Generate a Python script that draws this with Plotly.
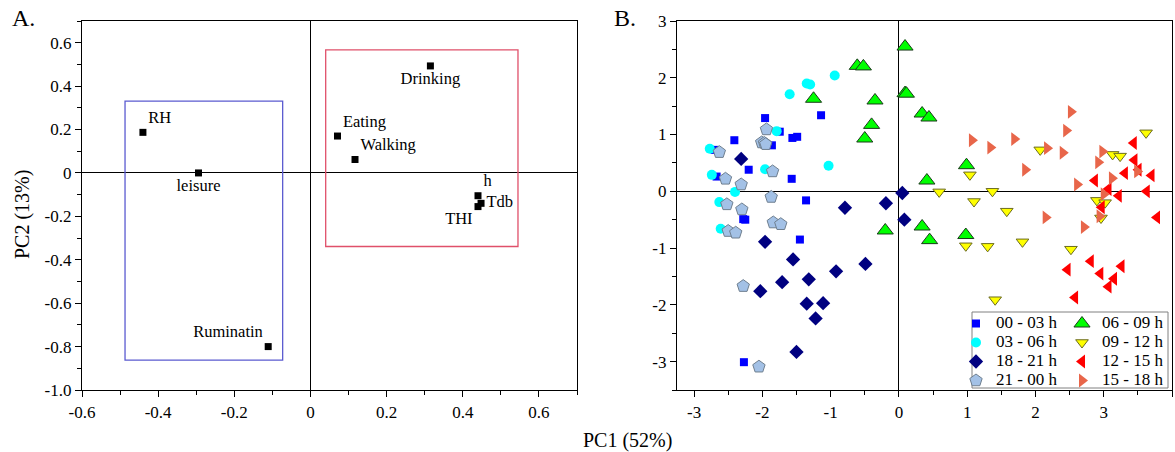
import plotly.graph_objects as go

FONT = "Liberation Serif, Times New Roman, serif"

# ---------------- Panel A data (loadings) ----------------
var_names = ["RH", "leisure", "Ruminatin", "Drinking", "Eating", "Walking", "h", "Tdb", "THI"]
load_pc1 = [-0.44, -0.294, -0.111, 0.315, 0.071, 0.117, 0.440, 0.448, 0.440]
load_pc2 = [0.187, 0.0, -0.80, 0.493, 0.170, 0.062, -0.105, -0.140, -0.155]
label_pos = ["top right", "bottom center", "top left", "bottom center", "top right",
             "top right", "top right", "middle right", "bottom left"]

# groups boxes (PC1 min, PC1 max, PC2 min, PC2 max)
box_left = [-0.487, -0.073, -0.862, 0.331]
box_right = [0.040, 0.545, -0.339, 0.567]

a_xticks = [-0.6, -0.4, -0.2, 0, 0.2, 0.4, 0.6]
a_xlabels = ["-0.6", "-0.4", "-0.2", "0", "0.2", "0.4", "0.6"]
a_yticks = [-1.0, -0.8, -0.6, -0.4, -0.2, 0, 0.2, 0.4, 0.6]
a_ylabels = ["-1.0", "-0.8", "-0.6", "-0.4", "-0.2", "0", "0.2", "0.4", "0.6"]

# ---------------- Panel B data (scores) ----------------
g0003_x = [-1.96, -1.745, -2.41, -1.86, -1.56, -1.49, -1.14, -2.20, -1.57, -2.67, -2.70, -1.36, -2.28, -2.25, -1.45, -2.27]
g0003_y = [1.29, 1.05, 0.90, 0.81, 0.94, 0.96, 1.34, 0.38, 0.22, 0.26, 0.73, -0.16, -0.49, -0.50, -0.85, -3.01]

g0306_x = [-0.94, -1.35, -1.30, -1.60, -1.79, -2.77, -1.96, -1.03, -2.74, -2.40, -2.63, -2.61]
g0306_y = [2.04, 1.90, 1.88, 1.71, 1.06, 0.75, 0.39, 0.45, 0.29, -0.01, -0.19, -0.66]

g1821_x = [-2.31, -0.79, -0.19, 0.05, 0.08, -1.96, -1.55, -0.49, -0.92, -1.32, -1.71, -2.03, -1.35, -1.11, -1.22, -1.50]
g1821_y = [0.57, -0.29, -0.21, -0.03, -0.50, -0.89, -1.20, -1.28, -1.41, -1.55, -1.60, -1.76, -1.98, -1.97, -2.24, -2.83]

g2100_x = [-1.94, -2.01, -1.97, -1.95, -2.63, -1.85, -2.54, -2.31, -1.87, -2.52, -2.30, -1.84, -1.73, -2.50, -2.39, -2.28, -2.05]
g2100_y = [1.09, 0.86, 0.85, 0.83, 0.69, 0.35, 0.22, 0.12, -0.10, -0.23, -0.32, -0.55, -0.58, -0.70, -0.73, -1.67, -3.09]

g0609_x = [-0.61, -0.52, -1.25, -0.35, -0.40, -0.50, 0.09, 0.09, 0.11, 0.34, 0.44, 0.99, 0.41, 0.34, 0.45, 0.98, -0.20]
g0609_y = [2.21, 2.20, 1.63, 1.60, 1.17, 0.93, 2.55, 1.73, 1.72, 1.37, 1.30, 0.46, 0.19, -0.62, -0.86, -0.77, -0.69]

g0912_x = [3.62, 2.07, 3.13, 3.24, 1.04, 0.59, 1.37, 1.10, 1.58, 2.90, 3.02, 2.96, 0.98, 1.30, 1.81, 2.52, 1.41]
g0912_y = [1.03, 0.73, 0.65, 0.62, 0.29, -0.01, 0.0, -0.18, -0.35, -0.16, -0.20, -0.47, -0.96, -0.97, -0.89, -1.02, -1.91]

g1215_x = [3.44, 3.45, 3.31, 3.51, 3.70, 2.87, 3.07, 3.22, 3.63, 2.97, 3.78, 2.47, 2.81, 2.95, 3.26, 3.15, 3.07, 2.58]
g1215_y = [0.85, 0.55, 0.32, 0.38, 0.28, 0.19, 0.04, -0.08, 0.0, -0.28, -0.46, -1.38, -1.23, -1.45, -1.32, -1.54, -1.68, -1.87]

g1518_x = [2.52, 2.45, 1.07, 1.34, 1.69, 2.17, 2.40, 1.85, 2.61, 2.98, 2.92, 3.12, 3.49, 3.00, 2.94, 2.15, 2.71]
g1518_y = [1.40, 1.07, 0.90, 0.77, 0.92, 0.76, 0.68, 0.38, 0.12, 0.70, 0.51, 0.23, 0.35, -0.05, -0.44, -0.46, -0.63]

b_xticks = [-3, -2, -1, 0, 1, 2, 3, 4]
b_xlabels = ["-3", "-2", "-1", "0", "1", "2", "3", "4"]
b_yticks = [-3, -2, -1, 0, 1, 2, 3]
b_ylabels = ["-3", "-2", "-1", "0", "1", "2", "3"]

fig = go.Figure()

# ---------- Panel A ----------
fig.add_trace(go.Scatter(
    x=load_pc1, y=load_pc2, text=var_names, mode="markers+text",
    textposition=label_pos,
    textfont=dict(family=FONT, size=16.5, color="black"),
    marker=dict(symbol="square", size=7, color="black"),
    xaxis="x", yaxis="y", showlegend=False, cliponaxis=False))

# ---------- Panel B ----------
groups = [
    ("00 - 03 h", g0003_x, g0003_y, dict(symbol="square", size=8, color="#0000ff"), "legend", 1),
    ("03 - 06 h", g0306_x, g0306_y, dict(symbol="circle", size=10, color="#00ffff"), "legend", 2),
    ("18 - 21 h", g1821_x, g1821_y, dict(symbol="diamond", size=11, color="#000080"), "legend", 3),
    ("21 - 00 h", g2100_x, g2100_y, dict(symbol="pentagon", size=13, color="#a3c1e6",
                                         line=dict(color="#6f7f8f", width=1)), "legend", 4),
    ("06 - 09 h", g0609_x, g0609_y, dict(symbol="triangle-up", size=14, color="#00ff00",
                                         line=dict(color="#1a3a1a", width=1)), "legend2", 1),
    ("09 - 12 h", g0912_x, g0912_y, dict(symbol="triangle-down", size=11, color="#ffff00",
                                         line=dict(color="#6b6b20", width=1)), "legend2", 2),
    ("12 - 15 h", g1215_x, g1215_y, dict(symbol="triangle-left", size=12, color="#ff0000"), "legend2", 3),
    ("15 - 18 h", g1518_x, g1518_y, dict(symbol="triangle-right", size=12, color="#e8664a"), "legend2", 4),
]
for name, gx, gy, mk, lg, rank in groups:
    fig.add_trace(go.Scatter(x=gx, y=gy, mode="markers",
                             name='<span style="font-size:17px">' + name + '</span>',
                             marker=mk, xaxis="x2", yaxis="y2", legend=lg, legendrank=rank,
                             cliponaxis=False))

# ---------- shapes: group boxes ----------
fig.add_shape(type="rect", xref="x", yref="y", x0=box_left[0], x1=box_left[1],
              y0=box_left[2], y1=box_left[3], line=dict(color="#5b5bd0", width=1.3))
fig.add_shape(type="rect", xref="x", yref="y", x0=box_right[0], x1=box_right[1],
              y0=box_right[2], y1=box_right[3], line=dict(color="#e0506a", width=1.3))
# legend frame
fig.add_shape(type="rect", xref="paper", yref="paper", x0=972/1175, x1=1168/1175,
              y0=1-388/452, y1=1-312/452, line=dict(color="#808080", width=1),
              fillcolor="white", layer="above")

axis_common = dict(showgrid=False, showline=True, linecolor="black", linewidth=1.3,
                   mirror=True, ticks="outside", ticklen=6, tickwidth=1.3, tickcolor="black",
                   zeroline=True, zerolinecolor="black", zerolinewidth=1.3,
                   tickfont=dict(family=FONT, size=17, color="black"))

legend_common = dict(xanchor="left", yanchor="top", orientation="v",
                     bgcolor="rgba(0,0,0,0)", borderwidth=0,
                     font=dict(family=FONT, size=11, color="black"),
                     itemsizing="trace", tracegroupgap=0, itemwidth=30)

fig.update_layout(
    width=1175, height=452,
    margin=dict(l=0, r=0, t=0, b=0, autoexpand=False),
    paper_bgcolor="white", plot_bgcolor="white",
    xaxis=dict(domain=[82/1175, 577/1175], range=[-0.6, 0.7], anchor="y",
               tickvals=a_xticks, ticktext=a_xlabels,
               minor=dict(dtick=0.1, tick0=0, ticks="outside", ticklen=4, tickcolor="black"),
               **axis_common),
    yaxis=dict(domain=[1-390/452, 1-21/452], range=[-1.0, 0.7], anchor="x",
               tickvals=a_yticks, ticktext=a_ylabels,
               minor=dict(dtick=0.1, tick0=0, ticks="outside", ticklen=4, tickcolor="black"),
               **axis_common),
    xaxis2=dict(domain=[677/1175, 1172/1175], range=[-3.25, 4], anchor="y2",
                tickvals=b_xticks, ticktext=b_xlabels,
                minor=dict(dtick=0.5, tick0=0, ticks="outside", ticklen=4, tickcolor="black"),
                **axis_common),
    yaxis2=dict(domain=[1-390/452, 1-21/452], range=[-3.5, 3], anchor="x2",
                tickvals=b_yticks, ticktext=b_ylabels,
                minor=dict(dtick=0.5, tick0=0, ticks="outside", ticklen=4, tickcolor="black"),
                **axis_common),
    legend=dict(x=956/1175, y=1-309/452, **legend_common),
    legend2=dict(x=1062/1175, y=1-309/452, **legend_common),
    font=dict(family=FONT, color="black"),
)

fig.add_annotation(text="A.", x=10/1175, y=1-18/452, xref="paper", yref="paper",
                   xanchor="left", yanchor="middle", showarrow=False,
                   font=dict(family=FONT, size=24, color="black"))
fig.add_annotation(text="B.", x=612/1175, y=1-18/452, xref="paper", yref="paper",
                   xanchor="left", yanchor="middle", showarrow=False,
                   font=dict(family=FONT, size=24, color="black"))
fig.add_annotation(text="PC1 (52%)", x=627/1175, y=1-440/452, xref="paper", yref="paper",
                   xanchor="center", yanchor="middle", showarrow=False,
                   font=dict(family=FONT, size=20, color="black"))
fig.add_annotation(text="PC2 (13%)", x=22/1175, y=1-215/452, xref="paper", yref="paper",
                   xanchor="center", yanchor="middle", showarrow=False, textangle=-90,
                   font=dict(family=FONT, size=20, color="black"))

fig.write_html("out.html", config={"displayModeBar": False},
               post_script="document.body.style.margin='0';document.body.style.padding='0';")
